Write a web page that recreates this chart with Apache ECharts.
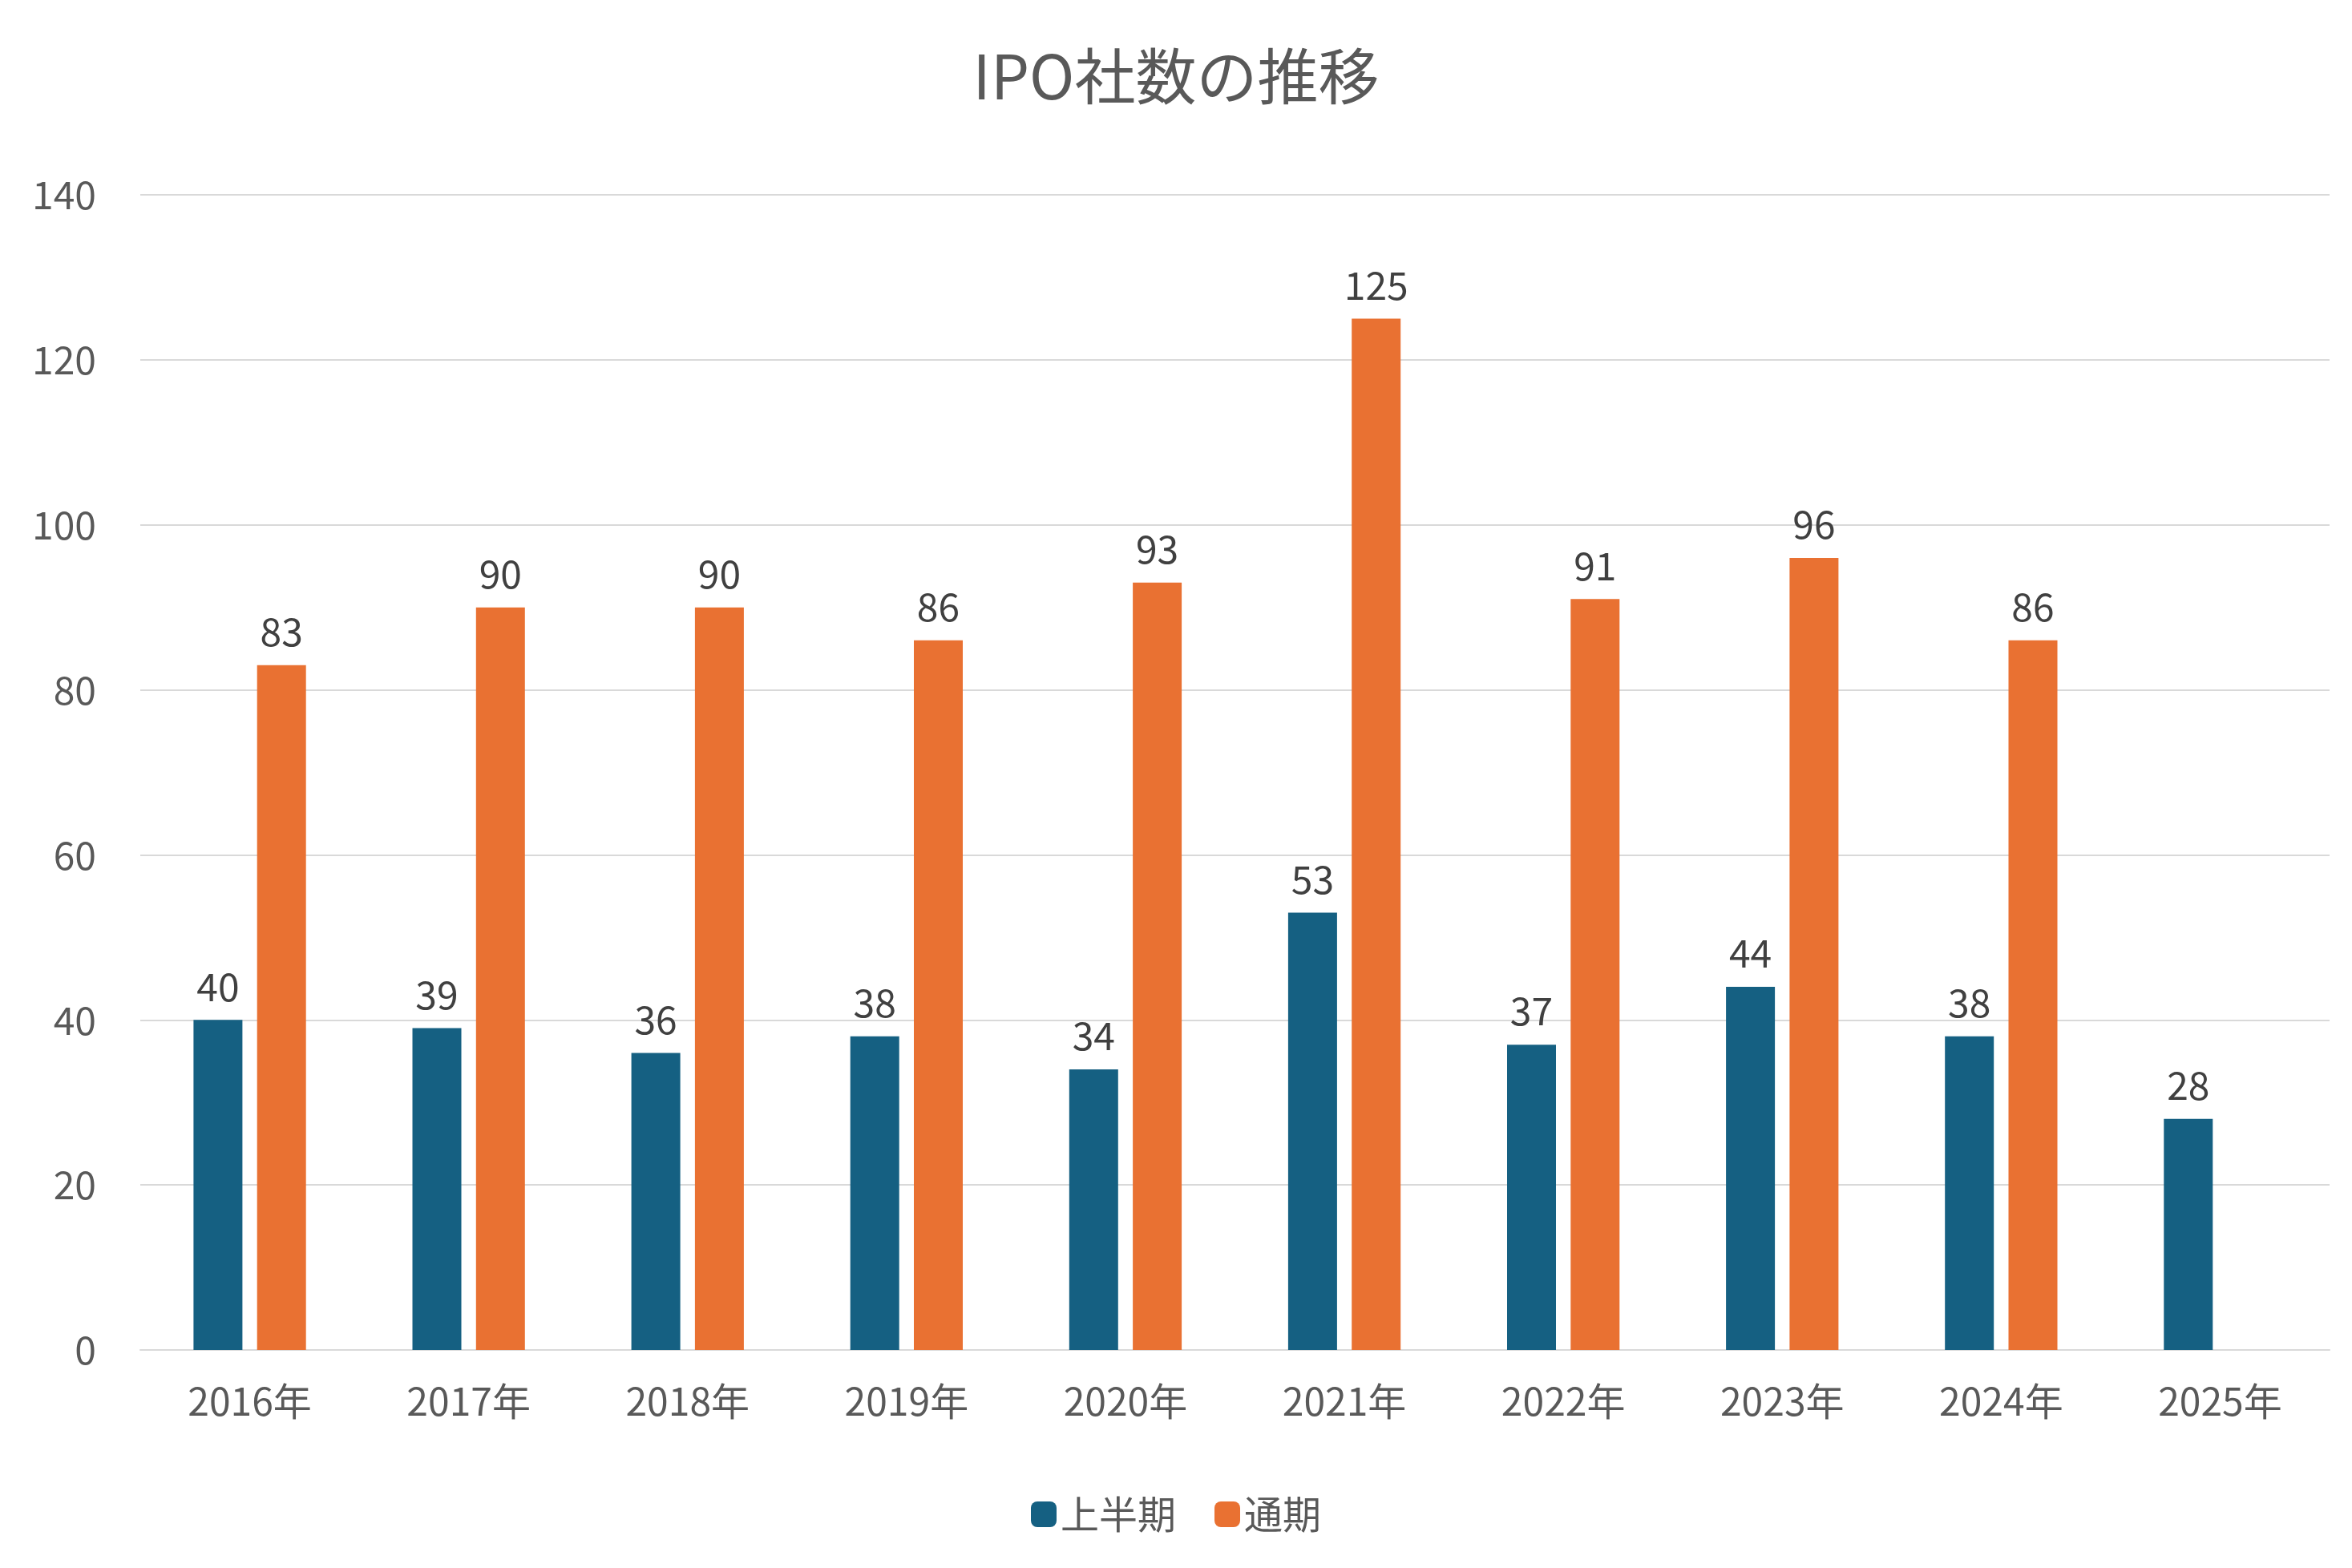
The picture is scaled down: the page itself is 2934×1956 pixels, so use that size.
<!doctype html>
<html>
<head>
<meta charset="UTF-8">
<title>IPO社数の推移</title>
<script src="https://cdn.jsdelivr.net/npm/echarts@6/dist/echarts.min.js"></script>
<style>html,body{margin:0;padding:0;background:#fff;}</style>
</head>
<body>
<div id="chart" style="width: 2934px; height: 1956px;"></div>
<script>
var years = ['2016年', '2017年', '2018年', '2019年', '2020年', '2021年', '2022年', '2023年', '2024年', '2025年'];
var firstHalf = [40, 39, 36, 38, 34, 53, 37, 44, 38, 28];
var fullYear = [83, 90, 90, 86, 93, 125, 91, 96, 86, null];

var font = '"Noto Sans CJK JP", "Noto Sans", sans-serif';
var grey = '#595959';

var myChart = echarts.init(document.getElementById('chart'));
var labelStyle = { show: true, position: 'top', distance: 18, color: '#404040', fontSize: 48, fontFamily: font };

myChart.setOption({
    animation: false,
    textStyle: { fontFamily: font },
    title: {
        text: 'IPO社数の推移',
        left: 'center',
        top: 52,
        textStyle: { fontSize: 76, fontWeight: 'normal', color: grey, fontFamily: font }
    },
    legend: {
        bottom: 38,
        itemWidth: 32,
        itemHeight: 32,
        itemGap: 48,
        textStyle: { fontSize: 48, color: grey, fontFamily: font },
        data: ['上半期', '通期']
    },
    grid: { left: 175, right: 28, top: 243, bottom: 272 },
    xAxis: {
        type: 'category',
        data: years,
        axisTick: { show: false },
        axisLine: { lineStyle: { color: '#d9d9d9', width: 2 } },
        axisLabel: { fontSize: 48, color: grey, margin: 40, fontFamily: font }
    },
    yAxis: {
        type: 'value',
        min: 0,
        max: 140,
        interval: 20,
        axisLabel: { fontSize: 48, color: grey, margin: 55, fontFamily: font },
        splitLine: { lineStyle: { color: '#d9d9d9', width: 2 } }
    },
    series: [
        {
            name: '上半期', type: 'bar', data: firstHalf,
            barWidth: 61, barGap: '30%',
            itemStyle: { color: '#156082' },
            label: labelStyle
        },
        {
            name: '通期', type: 'bar', data: fullYear,
            barWidth: 61,
            itemStyle: { color: '#E97132' },
            label: labelStyle
        }
    ]
});
</script>
</body>
</html>
